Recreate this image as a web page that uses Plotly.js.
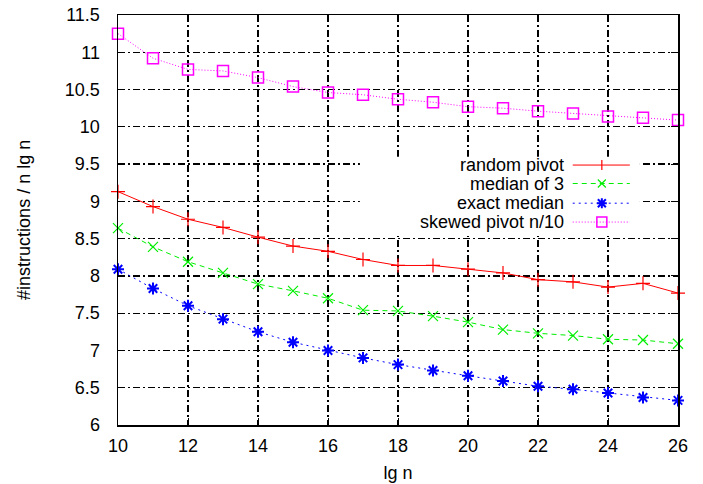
<!DOCTYPE html>
<html>
<head>
<meta charset="utf-8">
<script src="https://cdn.plot.ly/plotly-3.0.1.min.js"></script>
<style>html,body{margin:0;padding:0;background:#fff;}#chart{width:703px;height:484px;}</style>
</head>
<body>
<div id="chart"></div>
<script>
var lgn = [10,11,12,13,14,15,16,17,18,19,20,21,22,23,24,25,26];
var randomPivot = [9.13,8.93,8.76,8.65,8.52,8.40,8.33,8.22,8.14,8.14,8.09,8.04,7.95,7.92,7.85,7.90,7.77];
var medianOf3   = [8.64,8.39,8.19,8.04,7.89,7.80,7.70,7.54,7.53,7.46,7.38,7.28,7.23,7.20,7.15,7.14,7.09];
var exactMedian = [8.09,7.83,7.60,7.42,7.25,7.11,7.00,6.90,6.81,6.73,6.66,6.59,6.52,6.48,6.43,6.37,6.33];
var skewedPivot = [11.25,10.92,10.77,10.75,10.66,10.54,10.46,10.43,10.37,10.33,10.27,10.25,10.21,10.18,10.14,10.12,10.09];
var seriesNames = ["random pivot","median of 3","exact median","skewed pivot n/10"];

var styles = [
  {color:"#ff0000", dash:"solid", symbol:"cross-thin-open", size:10, mw:1.2, path:"M0,-5V5"},
  {color:"#00ee00", dash:"5px,4px", symbol:"x-thin-open", size:10, mw:1.2, path:"M-4,-4L4,4M-4,4L4,-4"},
  {color:"#0000ff", dash:"2px,4px", symbol:"asterisk-open", size:10, mw:2, path:"M-4,-4L4,4M-4,4L4,-4M-5,0H5M0,-5V5"},
  {color:"#ff00ff", dash:"1px,2px", symbol:"square-open", size:11, mw:1.5, path:null}
];
var seriesData = [randomPivot, medianOf3, exactMedian, skewedPivot];

var traces = seriesData.map(function(ys,i){
  var s = styles[i];
  return {
    x: lgn, y: ys, type:"scatter", mode:"lines+markers", name: seriesNames[i],
    line:{color:s.color, width:1, dash:s.dash},
    marker:{symbol:s.symbol, size:s.size, color:s.color, line:{color:s.color, width:s.mw}},
    showlegend:false, cliponaxis:false
  };
});

// manual gnuplot-style key (text left, sample right)
var shapes = [{type:"rect", xref:"paper", yref:"paper", x0:0.432, x1:0.932, y0:0.461, y1:0.654,
  fillcolor:"#ffffff", line:{width:0}, layer:"above"}];
var font = {family:"Liberation Sans, Arial, sans-serif", size:18, color:"#000"};
var annotations = [{xref:"paper", yref:"paper", x:-0.168, y:0.5, xanchor:"center", yanchor:"middle",
  text:"#instructions / n lg n", textangle:-90, showarrow:false, font:font}];
var rowY = [0.634, 0.589, 0.541, 0.495];
seriesNames.forEach(function(n,i){
  var s = styles[i];
  annotations.push({xref:"paper", yref:"paper", x:0.8, y:rowY[i], xanchor:"right", yanchor:"middle",
    text:n, showarrow:false, font:font});
  shapes.push({type:"line", xref:"paper", yref:"paper", x0:0.812, x1:0.914, y0:rowY[i], y1:rowY[i],
    line:{color:s.color, width:1, dash:s.dash}, layer:"above"});
  if (s.path) {
    shapes.push({type:"path", xref:"paper", yref:"paper", xsizemode:"pixel", ysizemode:"pixel",
      xanchor:0.864, yanchor:rowY[i], path:s.path, line:{color:s.color, width:s.mw}, layer:"above"});
  } else {
    shapes.push({type:"rect", xref:"paper", yref:"paper", xsizemode:"pixel", ysizemode:"pixel",
      xanchor:0.864, yanchor:rowY[i], x0:-5, x1:5, y0:-5, y1:5, line:{color:s.color, width:1.5}, layer:"above"});
  }
});

var layout = {
  width:703, height:484,
  margin:{l:118, r:25, t:15, b:59},
  paper_bgcolor:"#fff", plot_bgcolor:"#fff",
  font: font,
  xaxis:{range:[10,26], dtick:2, tick0:10, showgrid:true, gridcolor:"#000", gridwidth:1.2,
    griddash:"7px,3px,2px,3px", zeroline:false, showline:true, linecolor:"#000", linewidth:1.5,
    mirror:"allticks", ticks:"inside", ticklen:7, tickcolor:"#000", tickwidth:1,
    ticklabelstandoff:4,
    tickfont:font, title:{text:"lg n", font:font, standoff:11}},
  yaxis:{range:[6,11.5], dtick:0.5, tick0:6, showgrid:true, gridcolor:"#000", gridwidth:1.2,
    griddash:"7px,3px,2px,3px", zeroline:false, showline:true, linecolor:"#000", linewidth:1.5,
    mirror:"allticks", ticks:"inside", ticklen:7, tickcolor:"#000", tickwidth:1,
    ticklabelstandoff:13,
    tickfont:font},
  shapes: shapes,
  annotations: annotations
};
Plotly.newPlot("chart", traces, layout, {displayModeBar:false, staticPlot:true});
</script>
</body>
</html>
